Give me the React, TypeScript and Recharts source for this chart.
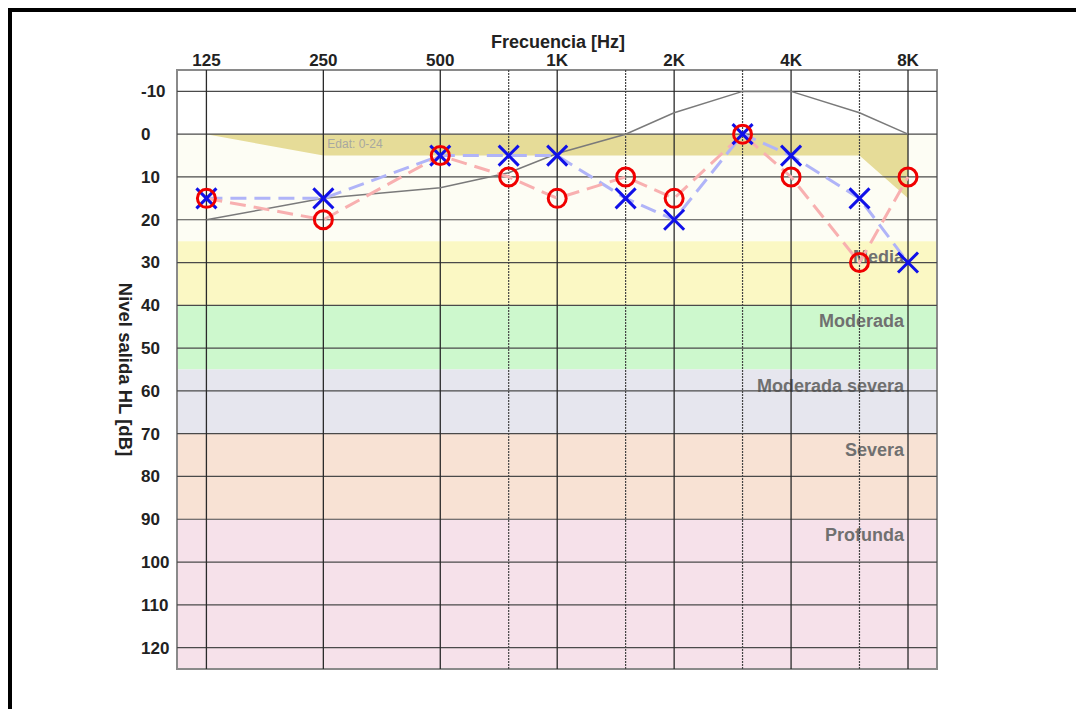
import {
  Area,
  ComposedChart,
  Line,
  ReferenceArea,
  ReferenceDot,
  ReferenceLine,
  XAxis,
  YAxis,
} from "recharts";

// audiogram values (dB HL)
const freqs = [125, 250, 500, 750, 1000, 1500, 2000, 3000, 4000, 6000, 8000];
const rightEar = [15, 20, 5, 10, 15, 10, 15, 0, 10, 30, 10];
const leftEar = [15, 15, 5, 5, 5, 15, 20, 0, 5, 15, 30];
const refCurve = [20, 15, 12.5, 9, 4.5, 0, -5, -10, -10, -5, 0];
const edatLower = [0, 5, 5, 5, 5, 5, 5, 5, 5, 5, 15];

const octaveTicks = [125, 250, 500, 1000, 2000, 4000, 8000];
const octaveLabels = ["125", "250", "500", "1K", "2K", "4K", "8K"];
const halfOctaves = [750, 1500, 3000, 6000];
const dbTicks = [-10, 0, 10, 20, 30, 40, 50, 60, 70, 80, 90, 100, 110, 120];

const bandFrom = [0, 25, 40, 55, 70, 90];
const bandTo = [25, 40, 55, 70, 90, 125];
const bandNames = ["", "Media", "Moderada", "Moderada severa", "Severa", "Profunda"];
const bandColors = ["#fdfdf4", "#fbf8c4", "#cdf8cd", "#e6e6ee", "#f8e2d4", "#f6e1ea"];

const X_DOMAIN: [number, number] = [105, 9500];
const Y_DOMAIN: [number, number] = [-15, 125];
const FONT = "'Liberation Sans', Arial, sans-serif";

const rows = freqs.map((f, i) => ({
  freq: f,
  right: rightEar[i],
  left: leftEar[i],
  ref: refCurve[i],
  edat: [0, edatLower[i]],
}));

const CircleMark = (props: any) => {
  const { cx, cy } = props;
  if (cx == null || cy == null) return null;
  return <circle cx={cx} cy={cy} r={9} fill="none" stroke="#f00000" strokeWidth={3} />;
};

const CrossMark = (props: any) => {
  const { cx, cy } = props;
  if (cx == null || cy == null) return null;
  const s = 10;
  return (
    <g stroke="#1010e8" strokeWidth={3}>
      <line x1={cx - s} y1={cy - s} x2={cx + s} y2={cy + s} />
      <line x1={cx - s} y1={cy + s} x2={cx + s} y2={cy - s} />
    </g>
  );
};

const XTick = (props: any) => {
  const { x, y, index } = props;
  return (
    <text x={x} y={y - 4} textAnchor="middle" fontFamily={FONT} fontWeight="bold" fontSize={17} fill="#222">
      {octaveLabels[index]}
    </text>
  );
};

const YTick = (props: any) => {
  const { x, y, payload } = props;
  return (
    <text x={x - 36} y={y} dy="0.35em" textAnchor="start" fontFamily={FONT} fontWeight="bold" fontSize={17} fill="#222">
      {payload.value}
    </text>
  );
};

const bandLabel = (name: string) => (props: any) => {
  const vb = props.viewBox;
  if (!name || !vb) return null;
  return (
    <text x={vb.x + vb.width - 33} y={vb.y + 22} textAnchor="end" fontFamily={FONT} fontWeight="bold" fontSize={18} fill="#707070">
      {name}
    </text>
  );
};

export default function App() {
  return (
    <div style={{ width: 1068, height: 697, borderTop: "4px solid #000", borderLeft: "4px solid #000" }}>
      <ComposedChart width={1060} height={690} data={rows} margin={{ top: 18, right: 135, bottom: 33, left: 105 }}>
        <XAxis
          dataKey="freq"
          type="number"
          scale="log"
          domain={X_DOMAIN}
          ticks={octaveTicks}
          orientation="top"
          height={40}
          axisLine={false}
          tickLine={false}
          tickSize={0}
          tickMargin={0}
          tick={<XTick />}
          interval={0}
          allowDataOverflow
          label={(p: any) => (
            <text
              x={p.viewBox.x + p.viewBox.width / 2 + 1}
              y={p.viewBox.y + 18}
              textAnchor="middle"
              fontFamily={FONT}
              fontWeight="bold"
              fontSize={18}
              fill="#222"
            >
              Frecuencia [Hz]
            </text>
          )}
        />
        <YAxis
          type="number"
          domain={Y_DOMAIN}
          reversed
          ticks={dbTicks}
          width={60}
          axisLine={false}
          tickLine={false}
          tickSize={0}
          tickMargin={0}
          tick={<YTick />}
          interval={0}
          allowDataOverflow
          label={(p: any) => (
            <text
              x={p.viewBox.x + 8}
              y={p.viewBox.y + p.viewBox.height / 2}
              transform={`rotate(90 ${p.viewBox.x + 8} ${p.viewBox.y + p.viewBox.height / 2})`}
              textAnchor="middle"
              dominantBaseline="central"
              fontFamily={FONT}
              fontWeight="bold"
              fontSize={18.5}
              fill="#222"
            >
              Nivel salida HL [dB]
            </text>
          )}
        />

        {bandFrom.map((from, i) => (
          <ReferenceArea
            key={`band-${i}`}
            x1={X_DOMAIN[0]}
            x2={X_DOMAIN[1]}
            y1={from}
            y2={bandTo[i]}
            fill={bandColors[i]}
            fillOpacity={1}
            stroke="none"
            label={bandLabel(bandNames[i])}
          />
        ))}

        <Area
          dataKey="edat"
          type="linear"
          fill="#e6dc98"
          fillOpacity={1}
          stroke="none"
          isAnimationActive={false}
        />

        {dbTicks.map((v) => (
          <ReferenceLine key={`h-${v}`} y={v} stroke="#4a4a4a" strokeWidth={1.2} />
        ))}
        {octaveTicks.map((f) => (
          <ReferenceLine key={`v-${f}`} x={f} stroke="#2a2a2a" strokeWidth={1.3} />
        ))}
        {halfOctaves.map((f) => (
          <ReferenceLine key={`hv-${f}`} x={f} stroke="#444" strokeWidth={1.2} strokeDasharray="2 1" />
        ))}
        <ReferenceArea
          x1={X_DOMAIN[0]}
          x2={X_DOMAIN[1]}
          y1={Y_DOMAIN[0]}
          y2={Y_DOMAIN[1]}
          fill="none"
          stroke="#8a8a8a"
          strokeWidth={2}
        />

        <ReferenceDot
          x={250}
          y={0}
          r={0}
          fill="none"
          stroke="none"
          label={(p: any) => (
            <text x={p.viewBox.x + 4} y={p.viewBox.y + 14} fontFamily={FONT} fontSize={12} fill="#a8a8a0">
              Edat: 0-24
            </text>
          )}
        />

        <Line dataKey="ref" type="linear" stroke="#7a7a7a" strokeWidth={1.5} dot={false} isAnimationActive={false} />
        <Line dataKey="left" type="linear" stroke="#b0b4f8" strokeWidth={3} strokeDasharray="16 8" dot={false} isAnimationActive={false} />
        <Line dataKey="right" type="linear" stroke="#f8b0b0" strokeWidth={3} strokeDasharray="16 8" dot={false} isAnimationActive={false} />
        <Line dataKey="left" type="linear" stroke="none" dot={<CrossMark />} activeDot={false} isAnimationActive={false} />
        <Line dataKey="right" type="linear" stroke="none" dot={<CircleMark />} activeDot={false} isAnimationActive={false} />
      </ComposedChart>
    </div>
  );
}
